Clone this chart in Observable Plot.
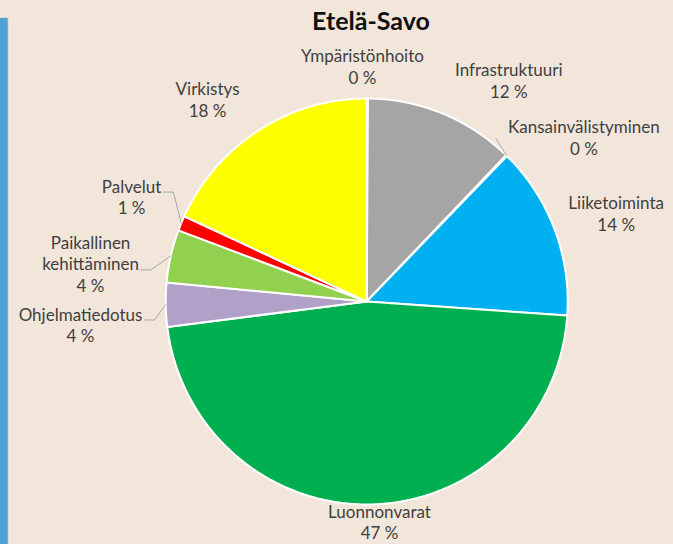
<!DOCTYPE html>
<html><head><meta charset="utf-8">
<script src="https://cdn.jsdelivr.net/npm/d3@7"></script>
<script src="https://cdn.jsdelivr.net/npm/@observablehq/plot@0.6"></script>
<style>
html,body{margin:0;padding:0;background:#f2e6da;width:673px;height:544px;overflow:hidden;font-family:Lato,sans-serif;}
#strip{position:absolute;left:0;top:18px;width:7px;height:526px;background:#4ea2db;box-shadow:1px 0 1px rgba(0,0,0,0.3);}
#title{height:34px;padding-top:2px;line-height:36px;font-size:25px;font-weight:bold;color:#111;text-align:center;padding-left:69px;width:604px;}
#chart{height:508px;}
</style></head><body>
<div id="strip"></div>
<div id="title">Etelä-Savo</div>
<div id="chart"></div>
<script>
// ---- data ----
const categories = ["Ympäristönhoito","Infrastruktuuri","Kansainvälistyminen","Liiketoiminta","Luonnonvarat","Ohjelmatiedotus","Paikallinen kehittäminen","Palvelut","Virkistys"];
const values = [0.1, 12.1, 0.1, 13.8, 46.9, 3.5, 4.2, 1.2, 18.1];
const colors = ["#d9d9d9","#a5a5a5","#7f7f7f","#00b0f0","#00b050","#b1a0c7","#92d050","#ff0000","#ffff00"];

// ---- layout ----
const W = 673, H = 508, CX = 366.2, CY = 265, RX = 201, RY = 203;
const LABEL_R = 1.2, FS = 17, LH = 1.28;
const labelNudge = [[-5,8.2],[51.2,4.1],[49.4,10.8],[24.1,-2],[6,-23.5],[-45,19.1],[-41.1,16.6],[-12.6,-11.1],[-29.3,3]];
const leaders = [ {i:2, line:0, side:"right"}, {i:5, line:0, side:"left"}, {i:6, line:1, side:"left"}, {i:7, line:0, side:"left"} ];

const pie = d3.pie().sort(null).value(d => d)(values);
const arcPts = [];
pie.forEach((p, i) => {
  const a0 = p.startAngle, a1 = p.endAngle;
  const n = Math.max(2, Math.ceil((a1 - a0) / 0.01));
  arcPts.push({cat: categories[i], color: colors[i], x: 0, y: 0});
  for (let k = 0; k <= n; k++) {
    const t = a0 + (a1 - a0) * k / n;
    arcPts.push({cat: categories[i], color: colors[i], x: Math.sin(t), y: Math.cos(t)});
  }
  arcPts.push({cat: categories[i], color: colors[i], x: 0, y: 0});
});

const labelData = pie.map((p, i) => {
  const m = (p.startAngle + p.endAngle) / 2;
  const lines = categories[i].split(" ").concat([Math.round(values[i]) + " %"]);
  return {
    i, mid: m, lines,
    x: LABEL_R * Math.sin(m) + labelNudge[i][0] / RX,
    y: LABEL_R * Math.cos(m) - labelNudge[i][1] / RY,
    text: lines.join("\n")
  };
});

const ctx = document.createElement("canvas").getContext("2d");
ctx.font = FS + "px Lato";
const leaderPts = [];
leaders.forEach(L => {
  const d = labelData[L.i];
  const n = d.lines.length;
  const w = ctx.measureText(d.lines[L.line]).width / RX;
  const base = -(0.32 * FS + (L.line - (n - 1) / 2) * LH * FS) / RY;
  const ex = Math.sin(d.mid), ey = Math.cos(d.mid);
  if (L.side === "left") {
    const yy = d.y + base - 1 / RY;
    leaderPts.push({id: L.i, x: d.x + w / 2 + 2 / RX, y: yy});
    leaderPts.push({id: L.i, x: d.x + w / 2 + 12 / RX, y: yy});
  } else {
    leaderPts.push({id: L.i, x: d.x - w / 2 - 12 / RX, y: d.y + base - 7 / RY});
  }
  leaderPts.push({id: L.i, x: ex, y: ey});
});

const plot = Plot.plot({
  width: W, height: H, margin: 0,
  x: {domain: [-CX / RX, (W - CX) / RX], axis: null},
  y: {domain: [-(H - CY) / RY, CY / RY], axis: null},
  color: {type: "identity"},
  style: {background: "transparent", fontFamily: "Lato, sans-serif", overflow: "visible"},
  marks: [
    Plot.line(arcPts, {x: "x", y: "y", z: "cat", fill: "color", stroke: "white", strokeWidth: 2, strokeLinejoin: "round"}),
    Plot.line(leaderPts, {x: "x", y: "y", z: "id", stroke: "#a6a6a6", strokeWidth: 1}),
    Plot.text(labelData, {x: "x", y: "y", text: "text", fontSize: FS, lineHeight: LH, fill: "#404040", textAnchor: "middle", lineAnchor: "middle"})
  ]
});
document.getElementById("chart").appendChild(plot);
</script>
</body></html>
